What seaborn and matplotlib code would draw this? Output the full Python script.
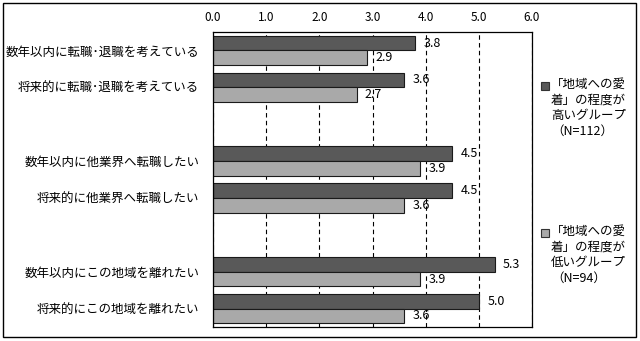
import matplotlib
matplotlib.use("Agg")
import matplotlib.pyplot as plt
import seaborn as sns
import pandas as pd
import numpy as np
from matplotlib.patches import Rectangle

# Survey items (top to bottom) and mean scores for the two groups
items = [
    "数年以内に転職･退職を考えている",
    "将来的に転職･退職を考えている",
    "数年以内に他業界へ転職したい",
    "将来的に他業界へ転職したい",
    "数年以内にこの地域を離れたい",
    "将来的にこの地域を離れたい",
]
high_scores = [3.8, 3.6, 4.5, 4.5, 5.3, 5.0]
low_scores = [2.9, 2.7, 3.9, 3.6, 3.9, 3.6]

groups = [
    "「地域への愛着」の程度が高いグループ（N=112）",
    "「地域への愛着」の程度が低いグループ（N=94）",
]
legend_lines = [
    "「地域への愛\n着」の程度が\n高いグループ\n（N=112）",
    "「地域への愛\n着」の程度が\n低いグループ\n（N=94）",
]
colors = ["#595959", "#a9a9a9"]

x_ticks = [0, 1, 2, 3, 4, 5, 6]

# Empty spacer rows separate the three item pairs
order = [items[0], items[1], " ", items[2], items[3], "  ", items[4], items[5]]

df = pd.DataFrame({
    "item": items * 2,
    "score": high_scores + low_scores,
    "group": [groups[0]] * len(items) + [groups[1]] * len(items),
})

sns.set_theme(style="white")
plt.rcParams["font.family"] = ["Noto Sans CJK JP", "DejaVu Sans"]

fig = plt.figure(figsize=(6.4, 3.41), dpi=100)
ax = fig.add_axes([213 / 640, 1 - 327 / 341, (532 - 213) / 640, (327 - 32) / 341])

sns.barplot(
    data=df, y="item", x="score", hue="group",
    order=order, hue_order=groups, palette=colors,
    orient="h", width=0.8, edgecolor="#1a1a1a", linewidth=0.8,
    legend=False, ax=ax,
)

for container in ax.containers:
    ax.bar_label(container, fmt="%.1f", padding=6, fontsize=9, color="black")

ax.set_xlim(0, 6)
ax.xaxis.tick_top()
ax.set_xticks(x_ticks)
ax.set_xticklabels([f"{t:.1f}" for t in x_ticks], fontsize=8.5)
ax.tick_params(axis="x", length=0, pad=6, colors="black")
ax.tick_params(axis="y", length=0, pad=10, labelsize=9, colors="black")
ax.set_xlabel("")
ax.set_ylabel("")

ax.grid(axis="x", color="black", linestyle=(0, (4, 3)), linewidth=0.8)
ax.grid(axis="y", visible=False)
ax.set_axisbelow(True)
for side in ["left", "right", "top", "bottom"]:
    ax.spines[side].set_visible(True)
    ax.spines[side].set_color("black")
    ax.spines[side].set_linewidth(0.9)

# Legend drawn as square markers beside wrapped labels
legend_tops = [78, 225]
for top, color, text in zip(legend_tops, colors, legend_lines):
    fig.patches.append(Rectangle(
        (541 / 640, 1 - (top + 12) / 341), 8 / 640, 8 / 341,
        transform=fig.transFigure, facecolor=color, edgecolor="#333333", lw=0.8,
    ))
    fig.text(551 / 640, 1 - top / 341, text, ha="left", va="top",
             fontsize=9, linespacing=1.25, color="black")

# Outer frame around the whole chart
fig.patches.append(Rectangle(
    (3 / 640, 1 - 337 / 341), 633 / 640, 334 / 341,
    transform=fig.transFigure, fill=False, edgecolor="black", lw=1.0,
))

fig.savefig("out.png", dpi=100)
